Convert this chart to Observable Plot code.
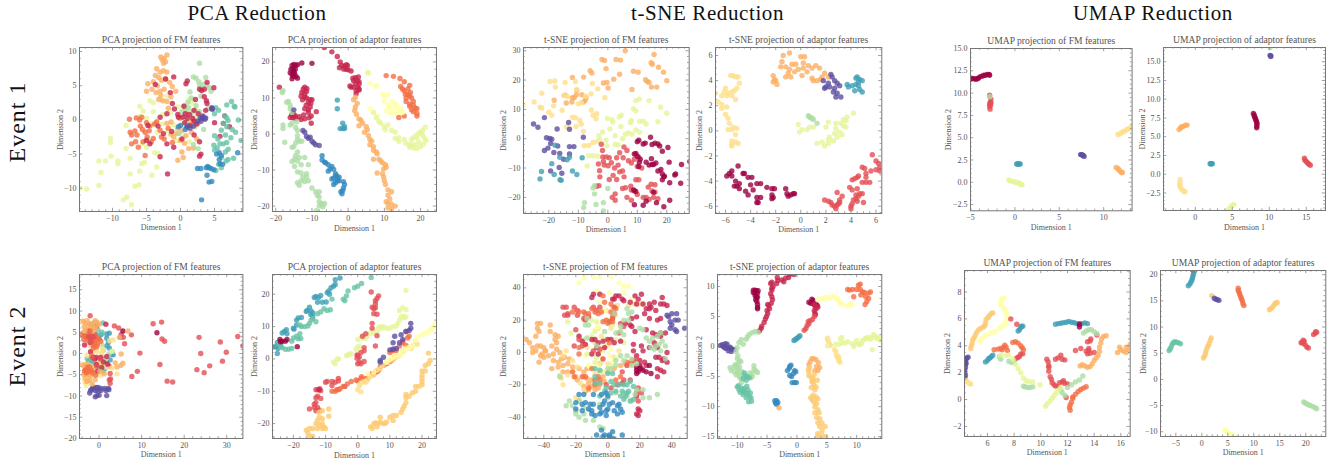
<!DOCTYPE html>
<html><head><meta charset="utf-8">
<script src="https://cdn.jsdelivr.net/npm/d3@7"></script>
<script src="https://cdn.jsdelivr.net/npm/@observablehq/plot@0.6"></script>
<style>
html,body{margin:0;padding:0;background:#fff;}
#stage{position:relative;width:1343px;height:464px;overflow:hidden;font-family:"Liberation Serif",serif;}
.sup{position:absolute;font-size:21px;color:#111;transform:translateX(-50%);white-space:nowrap;letter-spacing:.6px;top:1px;}
.ev{position:absolute;font-size:24px;color:#111;white-space:nowrap;letter-spacing:1px;transform:translate(-50%,-50%) rotate(-90deg);}
</style></head><body><div id="stage"></div>
<script>
const classNames=["a","b","c","d","e","f","g","h","i","j","k","n","l","m"];
const classColors=["#9e0142","#c7254e","#e34f54","#f46d43","#fdae61","#fdc96f","#fee08b","#ffffa8","#e6f598","#abdda4","#66c2a5","#3f9fb5","#3288bd","#5e4fa2"];

const pcaFmE1=[
["i",[-14.8,-10,-13.8,-10.1,-12,-6,-11,-6,-10.2,-5.3,-9.2,-6,-9.2,-6.4,-11.7,-7.7,-12,-9.6,-10.3,-2.7,-10.3,-3.3,-7.9,-11.3,-8.4,-11.7,-7.2,-12.4,-6.7,-9.7,-6.1,-9.5,-7.4,-7.9,-6,-7.5,-5.7,-6.4,-5.3,-6.2,-7.4,-5.6,-8,-4.2,-5.6,-3.5,-5,-4,-3.5,-6.9,-4.2,-8.1,-3.3,-4.9,-3.8,-4.8,-6,2,-5.5,1.3,-4.5,2.8,-4,2.5,-3,3.1,-2,3.5,-8,-.8,-6,.5,-5,.2,-4,1.2,-3.5,-.2,-2.6,.8,-1.5,1,-1,-.7,.3,-.7,1.2,3,1.7,2.5,2.2,1.6,1,1.2,2.4,.4,-.5,-3,-3.4,-1.8,-5,-2.8,-2.7,-.6,-1.9,-1.5,-.8,-1.9,.5,-2.5,1.3,-3.2,.6,1.5,-.3,1.9,-4.3,-.6]],
["e",[-2.4,9,-2,9.5,-2.7,8.8,-2.2,8.5,-2.9,9.2,-2.5,8.3,-3.5,7.5,-3,7,-2.5,7.2,-2,7,-3.7,6.5,-3.2,6.2,-2.2,6,-2.8,5.8,-4,5.6,-4.8,5.3,-3.4,5,-4.2,4.5,-5,4.2,-3.6,4,-3,4.2,-2.4,4.5,-1.6,5.5,-1.2,4.9,-.7,4.2,-3.2,3,-2.6,2.8,-2,2.7,-2.9,3.6,-1.4,3.4,-1.8,1.7,-2,-.5,-1,-2.5,-.5,-2,0,-3,.4,-5.5,-.4,-5.9,.2,-4.7,1.2,-4.2,.8,-2.3,1.6,-1.8,-1.4,-.3,-.4,-1.2,2.4,-2.8,1.3,-.6,.2,-1.6,-1.4,-2.1,.6,-3.4,1.9,-4.1,-.1,.2,1.7,-.2]],
["d",[-7.5,.1,-6.5,.3,-6,0,-5.7,.4,-5,-.4,-7.4,-1.8,-6.7,-1.6,-6.4,-2.2,-7.2,-2.2,-5.9,-.9,-5.6,-1.4,-4.5,-.9,-5.2,-1.8,-4.9,-2.5,-6.6,-3.2,-5.5,-3.2,-4,-2.7,-3.5,-.3,-3,-1.5,-2.8,-2.5,-2.4,-2.8,-1.8,-1.2,-5.2,-5.2,-6.2,-4,-4.3,-3.2,-4.6,-1.6,-3.8,-.6,-7.2,-3.5,-1.2,-3.3]],
["j",[2.8,8.3,1.9,6.3,2.3,6.1,2.7,5.6,3.7,6.2,3.3,5.2,3.9,5.1,4.2,4.7,4.5,4.2,2.8,5,1.4,4.1,1.6,3.2,1.1,2.6,.6,2.1,3,3.5,2.3,2.1,1.8,1.2,.8,1.4,4,1.6,.6,.5,2.6,-.5,-.2,-2,1.9,-3.6,2.6,-4.2,1.2,1.8,1.6,.6,2.8,1.2,.2,1.2,3.4,-1.4,.9,-.3,2.1,-1]],
["b",[1,5.7,.8,5.3,3.1,4.3,3.9,5.5,4.9,4.7,3.8,2.8,3.9,2.4,2.2,3,.5,2,-.3,.4,-2,.9,-3,.4,-1,6.3,-2.2,6,-3.7,5.2,-1.5,4,-2.5,-2,-3,-5.4,-1.9,-7.9,-2,-3.5,-1,-4,3,-5,2.8,-5.3,-5,-3,-4.5,-3.5,-4.8,-.8,-3.3,-.9,-1.3,-1.7,1.3,.8,1.8,.2,.6,-.4,1.4,-.8,1,.2,2.4,-.6,3.2,.4,3.7,1.4,4.6,1.6,2,1.4,-.4,.8,5,-.4,6.3,-.5,6.5,.6,7.2,-1,5.8,-2.4,3.5,3.4,2.8,4.5,3.5,4.5,-1.2,2.4,.2,-2.8,2,-2.2,2.8,-3.2,.3,.4,.7,.9,2,-.2,2.6,.9,-.9,1.6]],
["k",[5,.9,6.8,2.2,7.5,2.7,7.9,2,8,1.9,5.2,1.8,5.6,1.4,6.5,.6,6.8,.3,7,-.1,6.3,-.5,8.5,0,6.8,-1,6,-1.5,7.6,-1.4,8.1,-1.8,5,-2.3,5.5,-2.8,7.4,-2.6,6.6,-2.2,8.9,-3,6.8,-3.3,5.8,-3.5,4.9,-3.7,6.3,-3.5,5.4,-4.1,7,-4.3,6.6,-4.7,5,-4.4,7.8,-5.6,6,-5.5,7,-5.8,5.6,-6.5,6,-7,5.2,-7.4,6.7,-6]],
["l",[5.7,-4.8,5.3,-5,6,-5.2,8.4,-4.8,5.7,-5.8,5.8,-6.4,6.2,-6.5,4,-6.8,4.2,-7,4.5,-7.1,3.8,-7,4.9,-7.3,2.5,-7.1,3,-7.1,3.9,-8.1,4.2,-9.1,4.6,-9,3.1,-11.7,0,-.8,-.3,-1,.9,-1.1,.7,-1.4]],
["m",[4.6,1.8,4.7,1.6,2.5,-.2,3,-.2,3.2,.2,3.7,.3,3.3,.6,3.6,.1,2.9,.3,1,-.9,1.4,-1.2,1.9,-.9]]];

const pcaAdE1=[
["a",[-15.5,19,-15,19.3,-14.5,19,-14,19.2,-12.8,19.7,-15.8,18,-15.2,18,-14.6,18,-15,17.3,-16,17,-15.5,16.5,-14.8,16.8,-15.2,16,-14.4,16,-14,15.5,-15.5,15.3,-10,19.6]],
["b",[-6.6,24,-4.5,22.8,-3,21.5,-2.2,20,-1.8,19,-1,18.8,-.5,19.2,-2.4,18.4,-1.2,18,-.5,18,0,17.8,.8,17.5,-.2,19,1.3,15.5,2,15.6,2.8,15.8,1.5,14.8,2.5,14.8,3,14.5,2,14,3,13.8,1.5,13,2.6,13,3,12.5,.5,13.3,.8,13,2.2,12,2.2,11.2,3,12.2,-12.4,12.5,-12,13,-11.4,12.6,-12.8,11.5,-12,11.2,-11.5,11.8,-13,10.5,-12,10.2,-11.5,10,-10.5,9.5,-10,9.5,-12.6,9.5,-11,8.8,-10.3,8.5,-11.6,8,-10.5,7.5,-12,7,-11,6.7,-11,6,-8.8,6.2,-12.3,5.3,-10.2,5,-10.8,4.5,-10.2,3,-15.6,5.3,-15,5.4,-14.6,5,-16,4.6,-15.3,4.5,-14.5,4.3,-13,4,-12,4.2,-13.5,4.8,-19,13]],
["d",[10.5,16.2,12.5,16,14.3,15.4,15.5,14.5,17,13.5,14.5,13.2,15,12.5,15.5,12,15.8,11,16.5,11,17,10.5,16,10,17.5,10,18,9,16,9,17,8.3,18,8,17,7.7,18.5,7.2,19,7,17.5,6.7,18,6.2,19,5.7,19,5,15.5,5,14,4.6,16.5,12.5,17.2,11.5]],
["h",[6,14,8,13.5,7.5,13.2,5.5,17,9.5,11,10,10.5,11,11,10,9,12,9,13,8.5,11,8,11.5,7.2,12.5,7.5,13.5,7.8,14.5,7,13,6.5,14,6,12.5,5.6,11.5,6,10.5,6.5,15,6,6,7,8,5]],
["i",[5.5,17,7,6,7.8,4.5,8.5,3.5,9,3,10,2,11,2.5,12,1,10.2,1.2,13,.5,13,-1.2,14,-1,14,-2,15.5,-1.5,16,-2.6,17,-3,17.5,-3,18,-3.8,18.5,-3,19.5,-2.2,17.5,-1.5,18,-1,18.8,-.4,19.5,.2,20,.4,20.5,-.2,21,-1,21.5,-1.8,20.8,-2.8,20,-3.5,19,-4,17,-3.7,20.5,1,21.3,1.9,19,-1]],
["e",[2,10.2,1.5,9.5,2.5,8.5,2,7.5,1.8,6.5,2.3,5.5,3,4.2,3.5,3.8,4,3,5,2,3,2.3,4.5,.5,5.3,1.2,5.6,-.5,6,-1.5,6.5,-2,6,-3,7,-3.5,7,-4.5,7.8,-5,8,-5.5,7,-7,8.5,-7,9,-7.5,9.5,-8,10.3,-8.5,10.5,-9.2,9.8,-9.7,8,-10.8,9.5,-11,9.8,-12,10,-13,10.3,-14,11,-15.5,12,-16,11,-17,11.5,-18,10.5,-18.8,11,-19.3,12,-19.5,13,-20,11,-20.5,12,-20.8]],
["j",[-18.2,11.5,-18,12,-16.5,9,-17,8.8,-16,8,-16,7,-15.5,6,-16,2.5,-18,2.5,-18,1.5,-17.5,-2.3,-15.5,3,-14.2,3.4,-14.5,1.8,-14,1,-14,-.5,-14,-1.5,-14.5,-2.5,-15,-3.5,-13.5,-2,-12.8,-2,-15.5,-3.7,-14,-5,-14.5,-6,-13.5,-6.5,-12,-6.5,-14.8,-7,-14,-7.5,-15.5,-7.6,-14.8,-9,-13,-8.5,-11,-8.5,-14,-10.5,-13,-10.8,-11.5,-11,-12.5,-12,-11.5,-12,-13,-13,-12,-13.2,-11,-13,-14,-13.5,-13.5,-14.2,-10,-15,-9,-16,-8,-16,-8.5,-17,-8,-17.5,-8,-18.8,-7.5,-19.3,-7,-19.6,-6.5,-19.3,-8,-20,-7,-20.2,-8.8,-21.3]],
["n",[-3,9.4,-3,7,-1.5,3,-1,2,-1.5,1.5,-2.2,1.5,-1,1.5]],
["l",[-7.2,-6,-7.2,-7.2,-6.5,-7.8,-6.2,-8,-5.5,-8.5,-4.5,-9,-5,-9.7,-4,-9.8,-5.5,-10.3,-3.5,-11,-3.3,-11.5,-3,-12,-4,-12.2,-2.5,-12,-3,-13,-4.5,-12.5,-2.5,-13,-3.5,-13.5,-4,-14,-1.3,-13.2,-1,-14,-1.3,-15,-1.5,-15.7,-2,-16,-1.7,-16.6]],
["m",[-15,6.7,-12.5,1,-12,.5,-11.5,-.7,-10.5,-.9,-11,-1.2,-10,-2,-9.5,-2.5,-9,-3,-8,-3.2]]];

const tsneFmE1=[
["e",[5.9,30,15.7,28.7,-2,27,-1.1,26.7,2.8,27,4.3,26.8,14.7,25.9,15.1,25.4,17.2,24.4,-.6,23.9,-6,23.2,-5.4,22.4,8.7,23,10.3,22.7,18.9,22.7,4,22,2,20.3,-8.2,21,-12,20.9,12.8,20.1,13.4,19.5,14,19.2,20,19.8,-.3,19.2,-1.5,19,.1,17.3,14.8,17.6,16.6,17.6,8.2,16.8,-10.5,16.5,-10.7,15,-11.4,14,-12.2,12.5,-14.1,12.2,-18.2,13.1,-14.5,14.8,-8.8,15,-7.4,14,-7.7,13,-8.3,12.5,-12,14]],
["g",[-28.8,11.5,-25,12.5,-23,10.7,-22.4,10.5,-22.4,15.5,-20,9,-19,8,-18.4,11.2,-19.6,19.5,-18,19.7,-17.8,17.6,-14.5,19.2,-11,19.5,-10.6,16.8,-7.5,14.5,-5.7,15.3,-3.4,17,-5.2,18.8,-15,14.7,-13.7,14.4,-15.5,9.7,-12,7.3,-11,7.2,-9.5,6.3,-9,5,-5.6,9.8,-5,8,-3.8,8.5,-4,6.8,-1,14,-14,4,-10.8,4.2,-8.3,2.5,-8,-2.4,-6.5,-2.3,-5,-1.3,-3.5,-.9,-10,11.9,-9,12.3]],
["i",[-.1,6.9,1.5,6.5,1.7,5.7,3.9,7.4,4.6,8,9.5,13,10.7,13.5,14,13,8.7,10.2,9.5,9.5,17.9,10.7,20,8.7,8,6.2,7.7,5.5,10.8,5.9,12,6,13,5,17,5.8,.7,3.3,-1.8,2.3,-3,1,-2.8,-.4,-.6,-.5,2.5,-2,3.5,-2.1,2.5,1,5,0,4.4,4.2,-.3,-2.4,6,1.5,7,2,8.2,1.5,9.5,3,10.8,2.2,-6.5,-5.8,-5,-5.8,-3.5,-6,-7,-9.3]],
["c",[-2.2,-1.9,-1.8,-4,-1.7,-6.2,-.5,-6.2,.5,-6.5,-1.5,-7.8,-3.2,-8.6,-1.2,-9,.1,-9.2,1.2,-8.2,3.5,-9,2.3,-10,4,-11.3,-2.8,-10.9,-2.7,-13,1.8,-12.5,.5,-13.9,3,-13.9,5.5,-13,5,-11,5.2,-6.5,5.5,-2.8,6.5,-4,7,-7.5,8,-8.3,9,-7,10.5,-6.3,10,-9.5,11.5,-10,9.5,-14,10.5,-14,6,-16.7,7.8,-16.2,8,-17.5,9,-17.8,10,-19,12,-20,13,-20,15.5,-20,13.7,-16.5,14.7,-15.5,16,-15.7,15,-17.8,16,-18.2,2.5,-18.8,1.5,-20,2.5,-21,8,-21,-3,-16,-3.8,-16.2,5,-17,6.5,-20,14,-20.7,17,-20.5,3,-6.5,4,-4.8]],
["a",[10,-1,10.5,-.5,12,-1.8,12.7,-1.5,14.5,.5,15,-2,14.8,-6.8,15.5,-8.8,15,-8.8,16.3,-8.3,16,-1.5,17,-1.8,17.6,-2.5,20.4,-3,18.5,-4.3,9.5,-5,9,-5.2,11,-7,10.7,-8,10.5,-9.5,10,-6,13,-8,14,-9,18,-10.5,18.5,-12,19.2,-12.8,17,-11,22.7,-12.4,23,-12,21,-15,18.5,-14,19,-13,24.7,-15.2,25,-8.8,27.8,-7.8,20.8,-8,8.8,-17.5,9.5,-18,9,-22.5,12,-22.7,13,-21.3,19,-23.2,21,-21,16.5,-21.8,15.5,-18.3]],
["j",[0,-17,-5,-16.8,-4.5,-16,-7.9,-21.8,-8.2,-23.5,-4,-22.4,-1.5,-24.6,-1.5,-21.8,-4.5,-18.8]],
["m",[-25.2,5,-23.7,3.9,-21.5,7.2,-20.8,.3,-19.7,.1,-19,-.2,-20.3,-3.2,-19.4,-1.6,-21.5,-4,-17.2,3.3,-13.3,5.5,-13,3.2,-8.3,.5,-13,-2.7,-11.5,-2.7,-17,-2.5,-18.3,-4.7,-16.3,-5,-13,-5.2,-15,-7,-19.4,-11,-15.6,-11.8,-16.5,-9.8]],
["n",[-17.9,-2.2,-19,-8.5,-16.3,-6.3,-13.8,-7.2,-13,-6.3,-8.7,-6.5,-23,-13.7,-22.5,-11.2,-18.2,-12.2,-16.2,-14,-15.8,-14.2,-12,-11,-10.5,-12.2]]];

const tsneAdE1=[
["e",[-.9,6.2,-1.4,6,-1.5,5.5,-1.6,5.1,-1.2,5.1,-.7,5.3,-.4,5.3,0,5.9,.3,5.9,-.9,4.9,-1,4.6,-.5,4.7,-.2,4.9,.2,5.4,.2,5,.6,5.2,.5,4.7,.9,5,1.2,5.2,1.5,5,1.9,4.6,2.2,4.3,1.3,4,1.7,4.3,.9,4.2,1,4,-2.2,4.4,-2.1,4.1,-2,4,-2.2,3.9,-1.9,3.7,-1.2,4.3,-.8,4.3,.1,4.4,1.6,4.1]],
["m",[2.4,4.5,1.8,4,2.2,3.8,2.5,4.3,2.7,4,2.9,3.8,2.3,3.5,2.7,3.4,3.1,3.6,2,3.5,1.9,3.4,2.6,3.1,2.9,3,2.8,2.7,3.2,2.7]],
["n",[4.4,4.2,4.5,4.3,4.7,4.1,4.9,4,3.7,3.7,3.8,3.5,4.1,3.6,4.4,3.7,4.6,3.6,4.7,3.3,4.3,3.2,4.9,3.1,4.6,3.9]],
["g",[-5.6,4.4,-5.4,4.4,-5.2,4.3,-5,4.3,-4.9,3.8,-5.1,3.4,-6,3.4,-6.1,3.1,-5.8,3,-5.5,3.1,-5.3,3.2,-6.3,2.8,-5.9,2.8,-5.5,2.8,-5.2,2.5,-6.8,3,-6.6,2.3,-6.3,2.1,-6.3,1.8,-5.9,1.9,-6,1.3,-5.8,1,-5.7,.6,-5.4,.3,-5.8,.1,-5.5,.1,-5.1,.2,-5.2,-.3,-5.5,-.8,-5.2,-.9,-5.5,-1.1,-5,-1,-5.5,-1.2]],
["i",[-.2,.5,.1,.1,.5,.1,.7,.3,1,.3,-.1,-.1,2,.3,2.2,.7,2.8,.6,2.8,.2,3.2,.6,3.4,.4,3.6,.8,3.6,.3,3.4,.9,3.7,1.1,4.2,1.4,3.1,-.1,2.7,-.2,2.9,-.5,2.3,-.5,2.6,-.8,3.3,-.3,1.3,-1,1.7,-.9,1.9,-1.2,2.2,-1,2.2,-.7]],
["j",[.6,1.2,.7,1.1,.8,1.05,.9,1,1,.9,1.3,.6]],
["a",[-5.9,-3.6,-5.7,-3.4,-5.5,-3.2,-5.5,-3.6,-5,-2.8,-5.2,-4,-5.3,-4.4,-5.1,-4.4,-4.9,-4.6,-4.9,-4.2,-4.5,-3.4,-4.6,-3.4,-4.2,-3.7,-3.9,-3.7,-4.4,-4.8,-4,-4.3,-4.2,-5.1,-3.8,-4.7,-3.5,-4.2,-3.2,-4.2,-3.5,-5.3,-3.2,-5.3,-3.4,-5.7,-3.5,-5.7,-2.7,-4.5,-2.3,-4.6,-2.1,-4.6,-2.3,-5.1,-2.2,-5.3,-1.2,-4.6,-1.1,-5,-1,-5.2,-.8,-5.1,-.6,-5,-.5,-5,-2.3,-5.4]],
["c",[1.9,-5.5,2.2,-5.6,2.4,-5.7,2.5,-5.9,2.7,-6,2.8,-6.2,2.9,-5.9,3,-5.8,3.1,-5.5,3.3,-5.2,2.9,-4.9,3.1,-5.7,4,-6.2,4,-6,4.1,-5.8,4.2,-5.5,4.4,-5.4,4.5,-5.6,4.4,-5.1,4.6,-5.2,4.7,-5,4.9,-5,5,-5.7,3.9,-4.5,4.1,-4.7,4.5,-4.6,4.1,-3.9,4.3,-3.8,4.5,-3.7,4.6,-3.6,4.9,-4.1,5.2,-4.1,5.6,-3.2,5.2,-3.4,5.2,-3.7,5.5,-4.1,4.9,-2.9,5.1,-3,5.7,-1.9,6,-2.4,6.2,-2.6,6.3,-2.9,6.3,-3.2,6,-3.1]]];

const umapFmE1=[
["a",[-5,11.55,-4.8,11.65,-4.6,11.6,-4.4,11.55,-4.2,11.6,-4.1,11.7,-3.9,11.85,-3.7,11.9,-3.5,12,-3.3,12,-3.1,12.1,-2.9,12.1,-2.85,12]],
["c",[-2.85,9.75,-2.7,9.3,-2.75,9,-2.85,8.8,-2.85,8.5,-2.8,8.2,-2.75,8.6,-2.7,8.9]],
["j",[-2.85,9.6]],
["g",[11.6,5.35,11.8,5.4,12,5.55,12.2,5.7,12.4,5.75,12.6,5.9,12.8,6,13,6.1,13.2,6.15]],
["m",[7.4,3.1,7.5,3.1,7.6,3.05,7.7,3,7.8,2.9]],
["n",[.2,2.05,.3,2.05,.4,2.05,.5,2.05,.6,2.05]],
["e",[11.4,1.65,11.6,1.55,11.7,1.4,11.85,1.25,12,1.1,12.1,1.1]],
["i",[-.7,.25,-.5,.15,-.3,.1,-.1,.05,.1,0,.3,-.05,.5,-.1,.7,-.25,.8,-.3]]];

const umapAdE1=[
["j",[10.1,16.9]],
["m",[10.1,15.85,10.2,15.8,10.2,15.7]],
["a",[7.85,8.1,7.95,7.9,8,7.7,8.1,7.5,8.15,7.3,8.25,7.1,8.3,6.9,8.35,6.7,8.3,6.4,8.3,6.2]],
["e",[-2.2,5.95,-2,6.15,-1.9,6.3,-1.7,6.35,-1.5,6.45,-1.3,6.55,-1.1,6.55]],
["c",[14.75,2.15,14.8,1.9,14.95,1.75,15.1,1.6,15.25,1.45,15.4,1.3,15.55,1.2]],
["n",[2,1.4,2.1,1.4,2.2,1.4,2.3,1.4]],
["g",[-2.05,-.7,-2.1,-1.1,-2.1,-1.45,-2.05,-1.7,-1.9,-1.95,-1.7,-2.15,-1.5,-2.3,-1.4,-2.35]],
["i",[5.2,-4.05,5,-4.15,4.8,-4.4,4.6,-4.6,4.4,-4.8]]];

const pcaFmE2=[
["c",[-2.1,8.9,3.6,6.5,4.6,6,5.2,4.5,5,3.8,5.7,3.8,6,2.3,7.6,4.4,9.6,.1,12.7,7,14.7,7.4,14.8,3.4,15.4,2.9,14.3,-2.6,16,-6.5,17.3,-6.7,7.7,-5.4,9,-4.2,23.5,3.8,23.9,0,23,-3.8,24.7,-4.5,26,-2.9,28.5,2.7,29.9,.3,29,-1.8,32.6,4,33.8,1.8,2.6,-4.7,2.7,-6,2.6,-7,2.4,-6.2,2.4,-3]],
["a",[5.6,5.3,13.6,4.9]],
["m",[-1.3,-8,-.7,-8,-.2,-8,.4,-8.2,1.3,-8.2,2.2,-8.2,2.3,-8.5,-2,-8.7,-1.6,-8.3,-.9,-8.7,-.3,-8.8,.4,-8.7,1.6,-8.7,-2.2,-9.3,-.9,-10.2,-.5,-9.9,0,-9.8,1.8,-9.9,-1.6,-8.3]],
["n",[1.8,4.6,2.4,4.8,1.8,3.6,2.2,2.6,1.8,1.8,2.4,1.3,3,-.2,3.3,-.3,2.6,-1.5,1.7,-1.8,-.7,4.5,.5,4.5,0,3.4,-1.5,-1.9,-2.4,-1.8,.8,-3,1.4,-1.2]],
["k",[-1,7.4,-.5,7,-2,6.7,-1.2,6.3,-.3,5.6,.7,5,.9,7.2,-3.2,4,-2,-1.4,-1,-2.4,-.1,-3,1,-4.2,1.4,-3.6,.4,-1.5,-2.8,-1.2]],
["j",[-3,5.5,-.5,3.5,.7,2,-.8,1,1,.7,2.4,0,3.1,.5,-2.6,-2.5,-1.4,-3.8,.4,-3.7]],
["i",[-2,-7,-3,-7.5,-2,-5.5,-.5,-4.8,1.6,-1.2,3,.5,-.8,-1.5,.8,-2.8]],
["g",[-3.6,7.6,-2,1.7,-1,1.2,2.5,3,3.3,3.2,-.6,.4,.5,-.4,-3.5,-4.5,-3.3,-6.7,-2.5,-6,.3,-5.2,-.2,-2.2,.5,-2.4,1.8,-3.2,4.2,-4.8,3,-3.4,-.2,1.8,.8,1,-1.4,.6,-2.8,-.4,-2,-3,.6,.2]],
["b",[-1.4,-.8,-1,-1.3,-.6,-.9,-2,.4,.4,-.9,-.6,-2.6,1,-2,2,-2.5,1.8,-.7,1.6,6.9,-.6,6.5,-3.4,2,-2.1,2.6,-2.4,5.3,-.4,-4.2,.6,-3.3]],
["e",[-3.8,7.6,-3.2,7.1,-2.8,7.7,-2.2,7.1,-1.5,7,-.9,7.7,-.7,6.5,-.5,7.4,0,6.9,-3.5,6.3,-2.5,6.5,-1.6,6.1,-.8,5.7,-3.2,5.5,-3.7,5,-1.5,5.4,-3,-2.5,-3.5,-3,-3.9,-2.7,-3.1,-3.4,-3.3,-3.9,-2.2,-4.4,-2.6,-5,-2,-5.2,-2.2,-6.3,-3.3,-5.8,-3.5,-5,-1.7,-4.2,-1.4,-3.4,-2.9,-6.6,-1.6,-7.2,-.9,-6.2,.2,-4.2,1.2,-4.8,3.8,-2.2,4.2,-3.2,5.1,-2.8,5.6,-2.3,6.8,5.3,4.8,3.8,5.2,-.1]],
["d",[-4.1,4.3,-3.5,4.2,-3,3.9,-2.6,4.4,-2,4.3,-1.4,4,-.9,4.4,-.5,3.8,0,3.4,-3.6,3.3,-2.9,3.2,-2.3,3,-1.5,3.2,-.9,3.1,-1,2.4,-.4,2.2,.4,2.9,-1.4,1.9,-1.3,1.3,-.6,1.6,-2.1,5.3,-1.7,-.6,-3.4,-4.1,-3,-4.6,-2.5,-4.2,-1.8,-4,-3.2,-3.9,-2.7,-3.3,-1.5,-4.6,-.8,-5.1,-2.2,-3.1]],
["c",[-2.5,4,-2,3.6,-1.8,4.1,-1.2,3.9,-1.4,-1,-.5,-3,.3,-1.3,-1.9,2.7]]];

const pcaAdE2=[
["n",[-26.3,3.7,-25.5,3.8,-25,5,-24.6,5.2,-24.8,3.2,-25,1.7,-24,4.5,-23.5,8,-22.8,8.5,-22.2,9,-22,7.8,-20,9.5,-19.8,9.2,-19,10.5,-19,12,-18.5,12.7,-17.5,12.8,-16,14.7,-15.7,15,-15,16,-14.5,14.8,-14,14.2,-14.6,13.7,-14,13,-13.5,19,-13,19.3,-12.2,19,-11.5,19.6,-12.5,17.5,-11,17.5,-9.8,17.6,-9.5,20.5,-9,21,-8.8,20,-8.3,22,-7.5,22.5,-7,23,-7,24.5,-5.5,25]],
["k",[-24.8,5,-24,3.8,-23.5,3.5,-22.5,3,-21.5,3,-20.5,3.2,-20.5,5.5,-20,6.5,-19,7,-18.5,6.2,-18,7.8,-17.7,6.3,-18,10.5,-17.5,10,-16.5,10,-15.5,10.2,-15,11,-14.5,12,-14,12.5,-13,11.5,-12.5,14,-11.5,14.5,-10.5,15.5,-9.5,15,-8.5,15.2,-8,18.5,-4.5,18.5,-4,18,-3.5,19.5,-3,21,-1,22,0,22.5,1.2,23.3,4.2,25.2]],
["a",[-24.2,6,-24,5.3,-23.5,5.5,-22.5,5.5,-22,6,-18.8,3.8]],
["i",[-7.5,-.9,-7,-1.5,-6.3,0,-6,0,-3.5,1,-3,1.2,-2.5,1.5,-2,1.5,-.5,3,0,3.7,.5,3.8,0,6,1,6.5,1.5,7,2,6.3,2.5,6.5,3,7,4,8,5,8,6,8.5,6.5,9.5,7,10,7.5,9.5,8,10,9,9.5,10,9.5,11,10,12,10.2,12.5,11,13,12,13.5,13,14,13.2,14.5,12.7,15,13,13,15,14,15.8,15,15.2,15,21.2]],
["c",[4.2,20.7,5.5,18,6,18.7,6.5,19.5,5.5,17,4.5,16,5,15.5,5.5,15.8,5,14,6,13.8,4.5,11,4.5,9.5,2.5,7.8,5.5,4,6,7.2,1.5,7,2,3.5,2,2.5,1,2,0,1,-.2,1.2,.5,.5,.5,-1,0,-1.5,1,-1.5,2,-.8,-.2,.2,-15,-15.5,-13.5,-15,-13.5,-14,-13,-13.5,-12.5,-15,-12,-15.8,-13,-16,-11.5,-12.2,-12.5,-11.5,-13,-12,-12.5,-9.5,-13,-9.5,-11.8,-9.2,-11.5,-9.8,-10,-7.2,-9.5,-7,-8,-7,-6,-6.8,-6,-6,-7,-7.2,-8,-8.2,-4,-8.5]],
["b",[-12,-9.5]],
["d",[-8,-10,-7,-10,-6.5,-9.5,-6,-9.5,-5.5,-9.2,-4.5,-8.5,-3.2,-7.7,-2,-7,-.5,-6.5,0,-6.8,1,-6,1.2,-5.5,2,-6.8,2.5,-6,3,-6,3.5,-5,4.5,-4.5,5,-4.8,5.5,-4,6,-4,6.5,-3.5,7,-2.5,8,-2,9,-1.5,10,-.8,10.5,-.5,11,0,11.5,.5,12,.8,10,2,11,2.5,11,3,12,2.6,13,4,14,5,15,4.2,14,5.5,15.5,6.5,16,7,15,8.5]],
["g",[1,-10.2,0,-9.5,.5,-8.3,1,-7.5,2,-7,2.5,-7.2,3,-6.5,4,-5.5,5,-5,6,-3.5,7,-3,7.8,-2,9,-1,10,-.5,11,-.2,11.8,.5,12.5,.8,13,1,14,2.2,15,3.3,16.5,3.2,17,4,18,5.5,18.5,4.5,3.5,-5]],
["h",[9,-1,10,0,11,.5,12,1,13,1,13.5,2,15,2.8,16,3.5,17,4,18,5.8,19,7,20,7.5,21,8,22,8.3,22.5,9,23,9,23.5,10,24,10.8,5,-4,3,-4.5]],
["f",[-16,-22,-15,-21.5,-14,-21.5,-15.5,-23,-15,-24,-14,-24,-13,-20,-12.5,-19,-12,-18,-11,-18.5,-11,-20,-10.5,-21,-12,-20.5,-12.5,-21.5,-11,-21.5,-10,-21.5,-12,-16.5,-11,-16,-9,-15.5,-9,-17.7,4,-21,4.5,-21.5,5,-20,5.5,-19.7,6,-21,6.5,-20,7,-19.5,7,-18,8,-20,8.5,-20,9,-19.5,10,-18,11,-17.5,12,-17.5,11,-19,13.5,-16.5,14,-15.5,14.5,-14.5,15,-13.5,15,-12,16,-11.5,17,-10.5,18,-10,15,-11,18,-8.5,19,-8.5,20,-8,20,-7,20,-6,20,-5,20,-3.7,21,-3.7,21,-2,22,-1.5,22.5,-.5,22,1.8]],
["m",[7,-.5,8,.5,10,2.8,11,3,12,3.2,11,5,11.5,7,13,5,14,6,13.5,7.5,15,8.5,16,8.8,16.5,9.5,16.5,11,7,-1]]];

const tsneFmE2=[
["e",[-51,8,-49,6,-47,3,-47,0,-45,1,-44,4,-42,4,-40,3,-39,1,-41,-1,-42,-2,-40,-3,-43,-6,-39,1,-45,10,-43,13,-44,15,-44,18,-42,18,-36,17,-36,13,-33,11,-31,10,-33,8,-32,6,-35,4,-32,2,-34,-1,-30,0,-37,-2,-34,-5,-31,-6,-29,-4,-35,-10,-31,-9,-28,-8,-25,-7,-28,-12,-25,-12,-27,-3,-24,-4,-22,-9,-18,-10,-15,-12,-13,-10,-20,-15,-19,-17,-15,-15,-13,-16,-12,-19,-10,-17,-15,-21,-14,-24,-10,-21,-8,-23,-12,-23,-5,-20,-2,-18,-3,-15,-6,-22,-5,-7,0,-12,4,-10,8,-8,11,-7,15,-5,17,-6]],
["g",[-26,1,-28,-2,-22,-5,-19,-9,-29,-16,-30,-14,-25,-14,-28,-20,-22,-12,-20,-28,-18,-29,-15,-23,-17,-19,-8,-13,-5,-12,0,-7,4,-3,7,1,-1,4,-4,10,2,15,-8,6,-13,3,-6,15,-4,26,-1,26,3,28,6,29,13,29,17,30,19,30,21,30]],
["h",[-18,43,-15,46,-9,47,-5,47,-2,49,2,47,7,43,10,41,13,41,-7,38,1,37,10,37,15,33,-5,31,-6,25,-2,26,-15,5,-14,-2,-12,-8,-11,-9,-8,-9,-6,-8,-4,-3,1,-2,3,-5,-8,14,-6,16,2,2,6,-3]],
["i",[-23,12,-25,19,-18,10,-15,8,-10,10,-8,13,-9,8,-4,3,-1,20,1,20,-7,19,-10,20,-15,20,-1,8,-6,-1,-7,-3,-4,-6,-3,-12,-3,1,5,8,8,7,10,6,3,17,5,23,-13,-1,-8,-6,2,-8]],
["b",[-9,36,-10,34,-5,36,3,33,5,35,4,33,7,35,9,33,10,32,14,31,17,35,19,33,21,36,18,30,22,30,24,27,26,27,26,30,27,28,29,31,33,30,34,34,35,30,37,29,30,26,26,21,31,20,33,21,23,24,18,22,15,21,11,18,14,17,15,16,17,13,24,14,28,12,30,11,33,12,36,12,33,10,29,6,30,4,31,3,16,5,21,4,26,3,22,1,16,1,18,-2,20,-5,23,-6,24,-8,21,-10,30,-3,32,-3,34,-5,37,0,35,-4,37,-6,31,-10,33,-11,35,-12,31,-15,-18,10,-16,7,-14,5,-10,8,-8,8,-6,6,-3,7,0,8,2,8,4,6,8,7,-7,3,-2,3,-6,-1,-10,-1,18,-27,19,-35,20,-36,18,-38,19,-39]],
["a",[18,-9,20,-10,19,-12,22,-11,24,-12,27,-13,18,-13,20,-8,26,-8,18,-11]],
["c",[-28,28,-26,28,-25,24,-27,23,-25,23,-21,28,-19,26,-19,23,-15,21,-14,20,-12,22,-9,28,-7,26,-5,28,-20,14,-18,8,-21,4,-16,4,-9,1,-3,-4,-5,2,7,12,1,19,3,21,4,24,4,28,8,18,10,16,-1,-20,2,-22,6,-20,9,-19,10,-17,14,-17,19,-22,18,-25,21,-25,19,-30,12,-8,16,-5,18,-4,9,-12]],
["d",[-22,25,-18,25,-15,25,-14,24,-12,24,-10,27,-8,25,-6,24,-4,25,-2,31,-3,35,2,25,3,22,2,30,5,27,-3,19,0,18,-1,20,3,19,-18,3,-18,-1,1,6,-22,-12,-21,-15,-16,-15,-14,-15,-10,-10,-8,-17,-6,-15,-12,-22,-8,-20,-5,-17,5,-17,8,-15,12,-6,14,-7]],
["j",[-30,-15,-26,-33,-22,-33,-18,-30,-15,-34,-15,-38,-18,-40,-20,-38,-14,-42,-9,-42,-5,-46,-3,-47,-24,-30,-20,-36,-12,-35,-5,-32,0,-28,5,-25,10,-25,12,-27,15,-30,17,-26,18,-23,22,-23,22,-28,26,-28,31,-26,0,-10,2,-10,5,-8,5,-5,8,-2,10,-5,12,-2,15,-4,15,-8,18,-7,20,15,22,14,24,9,28,9,31,10,33,12,34,7,26,7,27,3,29,2,30,4,32,5,33,1,36,-4,36,4,5,12,8,13,10,11,8,16,10,20,13,20,13,24,15,25,12,27,4,24,-13,21,-14,17,-12,17,-13,9,-7,4,-2,13]],
["k",[-8,-15,-8,-19,-8,-10,-5,-11,-5,-19,-5,-27,-2,-24,0,-13,-1,-22,2,-18,2,-25,3,-13,4,-20,5,-24,7,-20,10,-20,12,-20,14,-18,16,-21,13,-24,8,-27,10,-29,11,-27,14,-30,16,-29,12,-25,9,-24]],
["l",[-18,-26,-15,-26,-9,-26,-9,-32,-20,-31,-16,-32,-14,-31,-11,-32,-10,-36,-10,-38,-5,-34,-3,-32,-2,-30,-4,-37,-5,-38,-1,-36,0,-35,-1,-39,1,-32,3,-31,6,-33,7,-32,8,-35,9,-37,4,-36,6,-38,-20,-35,-16,-36,-12,-35,-8,-39,-4,-26,-1,-25,0,-27,-3,-52,-2,-51,1,-51,3,-49,1,-52,4,-54,-7,-51,-4,-48,3,-53,9,-51]],
["m",[37,23,38,22,40,24,43,24,39,19,40,17,42,20,44,20,39,15,42,14,43,13,48,15]]];

const tsneAdE2=[
["a",[-7.3,9.4,-7,9.4,-6.8,9.3,-6.5,9.3,-7.3,9,-7,8.9,-6.6,8.9,-7,8.5,-6.8,8.2,-6.6,8.2,-6.9,7.8,-6.7,7.5,-6.6,7,-6.6,6.5,-6.6,6.3,2.5,7.9,2.7,7.7,2,7.4,2.3,7.2,2.8,7.1,3.2,7.1,3.4,6.8]],
["b",[-6.3,2.6,-6,3,-5.9,3.4,-5.5,4,-5.3,4.6,-5.1,5,-4.9,5.5,-5,6,-4.6,6.3,-4.7,6.8,-4.9,7,-4.3,7.2,-4.1,7.8,-4.2,8.3,-4.4,8.8,-4.2,9.4,-4.2,9.7,-4.4,10.5,-4.2,10.7,-3.4,10.5,-3.2,11,-2.5,11.1,-2.2,10.8,-1.9,11.4,-1.4,11.5,-1.2,12,-.5,12,-3.3,11.5,-4,10,2.9,7,3,6.8,3.5,6.6,3.2,6.3,2.9,6,3,5.5,3.1,5.3]],
["c",[1.2,2.7,1.5,3,1.7,3.5,2,3.8,1.9,4.2,2.2,4.3,2.6,4.5,2.9,5]],
["d",[8.5,9.5,9.3,9.5,10,9.5,10.3,10.2,10.6,10.4,10.6,9.5,11,9.1,10.7,8.6,11.3,9,11.5,8.3,12,8.9,12.3,9.1,12,8,11.7,7.5,11.4,7,9.5,8.3,8.8,9.4]],
["h",[3.5,7.8,4.2,8,4.6,8,5,8.2,5.5,8.1,6,8.4,6.4,8.1,6.8,8,7,7.6,7.2,7.2,7.6,7,8.5,6.8,9,7.1,9.2,6.9]],
["g",[5.1,1.4,5.2,1,5.4,.5,5.6,.2,6.3,-.5,6.5,-.9,6.6,-1.5,6.8,-1.8,6.9,-1.6,7,-1.9,7,-2.3,7.2,-2.6]],
["i",[5.1,.1,6.5,.4,7,.4,7.5,.6,8,.6,8.5,.8,7.3,1.3,7.5,1.5,9.2,.5,9.5,0,9.8,.5,10,1,10.2,.5,10.5,.3,10.8,.5,11,1,11.3,1.2,11.5,1.4,11.8,1.5,12,1.4,12.3,1.2,12.5,1.5,12.8,2,13,1.8,13.2,1.5,13.5,1.3,13.8,1.5,12.6,-.5,14,1]],
["n",[-.5,1,-.3,1.15,-.1,1.3,.1,1.45,.3,1.6,.5,1.8]],
["m",[-12.8,.2,-12.5,.3,-12,.5,-11.7,.4,-12.3,0,-11.9,-.3,-11.5,-.2,-11.2,-.1,-11,-.3,-10.7,-.5,-11.5,-.7,-11,-.8,-10.5,-.5,-12.2,-.1]],
["j",[-6.5,2.4,-7,2.5,-7.5,2.3,-8,2,-8.3,1.6,-8.5,1.2,-9.3,1.2,-9.7,.7,-9,.4,-10,-.2,-10.2,-.8,-9.9,-1.5,-10,-2,-9.6,-2.3,-9.4,-2.5,-10.3,-3,-10,-3.5,-10.5,-3.3,-11.2,-3.5,-11,-4,-10.5,-4.2,-9.8,-4,-9.5,-4.8,-9.3,-5.5,-9.3,-6,-7.2,-3.2,-7.2,-3.8,-6.9,-4,-6.6,-4.3,-7.5,-4.5,-7.5,-5,-7.7,-5.2,-9.9,-2.8,-9.6,-3.4,-9.9,-4.4,-9.6,-5.1,-10.2,-4.7,-9.2,-4.2,-8,-5,-7.9,-4.4]],
["k",[-8.7,-4.8,-8.3,-5,-9,-5.3,-8.5,-5.6,-8,-5.2,-10,-6.7,-9.8,-6.5,-9.3,-6.9,-8.8,-7,-8.2,-7.2,-8.9,-7.5,-8.3,-7.8,-7.8,-7.7,-9.7,-7.2,-9.5,-7.6,-8.5,-8.5,-8,-8.3,-7.7,-8.5,-8.1,-9.2,-7.6,-9.1,-9.1,-7.3,-9,-8,-8.7,-7.7,-8.4,-6.6,-8.8,-4.4]],
["l",[-1.2,-3.3,-1,-3.1,-1.3,-3.6,-1.6,-4,-.4,-4,-.2,-4.2,-.6,-4.5,-.9,-5,-1.2,-4.8,-.8,-6,-.4,-6,-.1,-6,-3.7,-9,-3.4,-9,-3.6,-9.4,-3.2,-9.3,-3.4,-9.6]],
["e",[2.5,-2,2.8,-2,3.2,-2.2,2.2,-2.5,3.6,-2.7,2,-3,3.8,-3.5,3.5,-4,3.3,-3.3,3,-4,-3,-10.2]],
["f",[2.1,-3.5,1.9,-3.8,2,-4.2,2,-4.8,2.4,-5.2,2.7,-5.3,2.5,-5.8,2.8,-6.3,2.4,-6.8,3.2,-6.7,2.3,-8.5,2.5,-8.8,3.2,-8.4,3.5,-8.7,2.8,-9.2,3.3,-9.5,3,-10,3.5,-10.5,3,-11,3.7,-11,3.3,-11.8,3.8,-12,3.5,-12.7,4.2,-12.7,3.8,-13.3,4.7,-13.3,4.2,-14,3.5,-14.5,4.2,-14.8,4.8,-15,3.4,-15.1,2.7,-5.8,2.9,-4.6,3.4,-5.6,3,-7.2,2.7,-8.1]]];

const umapFmE2=[
["m",[4.55,3.15,4.45,3.1,4.4,3,4.35,2.8,4.35,2.6,4.35,2.4,4.3,2.2,4.3,2,4.35,1.8,4.3,1.6,4.4,2.7,4.3,2.9]],
["g",[4.4,1.4,4.5,1.3,4.65,1.2,4.75,1.15]],
["f",[4.75,3.8,4.8,4,4.85,4.2,4.9,4.45,5,4.6,5.1,4.8,5.2,5,5.35,5.2,5.5,5.3,5.7,5.4,5.8,5.5,5.85,5.7,5.9,5.95,6.05,6.1,6.15,6.25,6.3,6.4,6.4,6.45]],
["h",[7.25,7.55,7.1,7.5,7,7.3,7,7.1,7.05,7,7.2,6.85,7.3,6.7,7.4,6.5,7.45,6.3,7.5,6.1,7.4,5.85,7.3,5.6,7.1,5.45,6.9,5.3,6.6,5.05,6.4,5,6.2,4.9,5.9,4.8,5.7,4.65,5.55,4.5,5.4,4.35]],
["n",[5.85,2.8,6,2.9,6.1,3.05,6.2,3.1,6.3,3.2,6.4,3.3,8.3,5.1,8.4,5.2,8.5,5.35,8.55,5.45,8.65,5.45,11.1,5.6,11.3,5.65,11.5,5.68,11.7,5.72,11.9,5.75,12.1,5.8,12.3,5.75,12.5,5.72,12.7,5.65,12.9,5.65,13.1,5.65,13.3,5.7,13.5,5.65]],
["a",[12.9,5.6,12.9,5.4]],
["c",[7.75,6,8.2,5.6,8.15,3.05,8.3,3.15,8.4,3.2,8.5,3.4,8.65,3.4,10.45,3,10.55,2.8,10.6,2.5,10.6,2.4,10.6,2.1,10.7,1.7,10.8,1.5,10.85,1.25,11,1.1,11.1,1,11.3,.95,11.4,1.25,11.6,1.3,11.7,1.4,11.8,1.2,12,1.15,11.1,3,11.3,3.1,11.5,3.3,11.6,3,11.8,2.95,11.9,.15,12.6,3.65,13,3.8,13.5,4.3,13.7,4.35,13.4,3.6,13.6,3.65,13.5,3.4,13.7,3.45,14,3.5,14.2,4.8,13.75,4.5,13.6,3.8]],
["d",[6.5,3.7,6.8,3.75,7,3.8,7.2,3.9,7.3,4.05,7.4,3.9,7.1,3.7,7.5,3.65,7.9,4.25,8.1,4.3,8.3,4.2,8.5,4,8.6,3.85,8.7,3.7,12.2,-.8,12.15,-.6,12.2,-.4,12.3,-.2,12.4,.1,12.4,.2,12.6,.4,12.8,.6,13,.75,13.2,.85,13.4,.95]],
["j",[6.9,3.2,7,3,7.6,2.85,7.8,2.75,8,2.8,8.7,1,8.8,.95,9,.9,9.2,.9,9.4,.95,11.5,.7,11.6,.5,11.8,.3,12,.9,12.3,1.1,12.6,1.3,12.9,1.45,13.15,1.75,13.2,4.95,13.4,5.1,13.6,5.2,13.8,5.2,14,5.05,14.2,4.9]],
["i",[7,3.3,7.4,3.3,7.6,3.3,7.9,3,8.1,2.6,8.3,2.3,8.5,2,8.7,1.6,8.9,1.4,9.1,1.35,9.4,1.3,9.95,1.1,10.35,-.5,10.5,-.3,10.7,-.1,10.85,.1,11,.3,11.15,.5,11.3,.7,11.5,.9]],
["e",[12.95,2.5,13.1,2.6,13.3,2.5,13.5,2.4,13.7,2.45,13.85,2.65,14,2.9,14.15,3.1,14.3,3.3,14.4,3.6,14.4,3.9,14.5,4.2,14.55,4.5,14.7,4.7,14.9,4.75,15.75,3.5,15.9,3.9,16,3.7,16.2,3.6,16.4,3.5,16.6,3.7,16.4,3.9,16.7,4.1]]];

const umapAdE2=[
["n",[-2.6,17.9,-2.3,18.2,-2.1,18.6,-1.9,19,-1.8,19.4,-1.7,19.8,-1.6,20.2,-1.4,20.7]],
["c",[-1.8,20.9]],
["f",[1.9,16,.3,4.1,.5,4.4,.7,4.9,.8,5.4,1,6,1.2,6.4,1.4,6.8,1.6,7.4,1.8,7.9,13,13.3,13.3,13.5,13.6,13.8,13.9,14.2,14.2,14.6,14.5,14.7]],
["m",[2.4,15.5,2.7,15.3,3,15.2,3.3,15.1]],
["d",[7,17.4,7,17,7.2,16.6,7.3,16.2,7.5,15.8,7.6,15.4,7.8,15,7.9,14.5,8.1,14.1]],
["c",[19.3,7.1,19.5,6.9,19.7,7.3,19.5,7.5,19.1,7,19.9,6.6,20.2,6.2,20.5,6,21.5,8.6,21.8,8.8,22.1,9,21.9,9.1]],
["k",[-6.3,5.5,-6.1,5.8,-5.9,6.2,-5.7,6.7,-5.5,7,-5.2,7.2,-4.9,7.1,-4.5,7,-4.1,6.8]],
["j",[19.6,-4.3,19.9,-4.5,20.2,-4.7,20.6,-4.9,21,-5,21.4,-5.2,21.8,-5.4,22.1,-5.6]],
["h",[4.4,-9.6,4.7,-9.9,5.1,-10.2,5.5,-10.5,5.9,-10.8,6.4,-10.9]]];

/* layout, kept apart from the data above */
const panels=[
 {d:pcaFmE1,t:"PCA projection of FM features",L:79.3,R:242.7,T:47,B:211,xd:[-14.85,9.17],yd:[-13.4,10.6],xt:[-10,-5,0,5],yt:[-10,-5,0,5,10],yo:22},
 {d:pcaAdE1,t:"PCA projection of adaptor features",L:272.3,R:436.3,T:47,B:211,xd:[-20.9,24.4],yd:[-21.5,24],xt:[-20,-10,0,10,20],yt:[-20,-10,0,10,20],yo:21},
 {d:tsneFmE1,t:"t-SNE projection of FM features",L:523.3,R:689,T:47,B:213,xd:[-28.6,27.6],yd:[-25.5,31.1],xt:[-20,-10,0,10,20],yt:[-20,-10,0,10,20,30],yo:23},
 {d:tsneAdE1,t:"t-SNE projection of adaptor features",L:715,R:881.3,T:47,B:213,xd:[-6.8,6.46],yd:[-6.58,6.64],xt:[-6,-4,-2,0,2,4,6],yt:[-6,-4,-2,0,2,4,6],yo:19},
 {d:umapFmE1,t:"UMAP projection of FM features",L:969.7,R:1131.3,T:47.7,B:210,xd:[-5,13.2],yd:[-3.2,15],xt:[-5,0,5,10],yt:[-2.5,0,2.5,5,7.5,10,12.5,15],yo:25,yf:".1f"},
 {d:umapAdE1,t:"UMAP projection of adaptor features",L:1163.3,R:1325.3,T:47,B:210,xd:[-4.3,17.6],yd:[-4.84,16.9],xt:[0,5,10,15],yt:[-2.5,0,2.5,5,7.5,10,12.5,15],yo:24,yf:".1f"},
 {d:pcaFmE2,t:"PCA projection of FM features",L:79.3,R:242.7,T:274.3,B:438.3,xd:[-4.6,33.8],yd:[-20,18.6],xt:[0,10,20,30],yt:[-20,-15,-10,-5,0,5,10,15],yo:22},
 {d:pcaAdE2,t:"PCA projection of adaptor features",L:272.3,R:436.3,T:274.3,B:438.3,xd:[-26.5,24.5],yd:[-24.6,26.1],xt:[-20,-10,0,10,20],yt:[-20,-10,0,10,20],yo:21},
 {d:tsneFmE2,t:"t-SNE projection of FM features",L:523.3,R:687,T:274.3,B:438.3,xd:[-52.7,49.6],yd:[-53.2,48.2],xt:[-40,-20,0,20,40],yt:[-40,-20,0,20,40],yo:23},
 {d:tsneAdE2,t:"t-SNE projection of adaptor features",L:717,R:881.3,T:274.3,B:438.3,xd:[-13.3,14.2],yd:[-15.3,12],xt:[-10,-5,0,5,10],yt:[-15,-10,-5,0,5,10],yo:21},
 {d:umapFmE2,t:"UMAP projection of FM features",L:964.3,R:1130,T:270.3,B:436.3,xd:[4.28,16.7],yd:[-2.75,9.6],xt:[6,8,10,12,14,16],yt:[-2,0,2,4,6,8],yo:20},
 {d:umapAdE2,t:"UMAP projection of adaptor features",L:1160,R:1325.3,T:270.3,B:436.3,xd:[-7.95,23.85],yd:[-10.9,20.8],xt:[-5,0,5,10,15,20],yt:[-10,-5,0,5,10,15,20],yo:20}
];
const supers=[["PCA Reduction",257],["t-SNE Reduction",707.5],["UMAP Reduction",1153]];
const events=[["Event 1",122],["Event 2",346]];

const INK="#777",TXT="#555";
const stage=document.getElementById("stage");
function minorTicks(major,dom){
  const step=major[1]-major[0],n=[1,2.5,5,10].includes(step)?5:4,m=step/n;
  const lo=Math.min(...dom),hi=Math.max(...dom),out=[];
  for(let i=Math.ceil(lo/m);i*m<=hi;i++){const v=i*m;if(!major.some(t=>Math.abs(t-v)<1e-6))out.push(v);}
  return out;
}
for(const p of panels){
  const ml=40,mr=8,mt=18,mb=26,W=p.R-p.L,H=p.B-p.T;
  const rows=p.d.flatMap(([c,flat])=>d3.range(0,flat.length,2).map(i=>({c,x:flat[i],y:flat[i+1]})));
  const mx=minorTicks(p.xt,p.xd),my=minorTicks(p.yt,p.yd);
  const tickOpts={stroke:INK,strokeWidth:.7};
  const xTicks=(vals,len)=>[
    Plot.tickX(vals,{x:d=>d,insetTop:H-len,...tickOpts}),
    Plot.tickX(vals,{x:d=>d,insetBottom:H-len,...tickOpts})];
  const yTicks=(vals,len)=>[
    Plot.tickY(vals,{y:d=>d,insetRight:W-len,...tickOpts}),
    Plot.tickY(vals,{y:d=>d,insetLeft:W-len,...tickOpts})];
  const fmt=p.yf?d3.format(p.yf):d3.format("");
  const svg=Plot.plot({
    width:W+ml+mr,height:H+mt+mb,
    marginLeft:ml,marginRight:mr,marginTop:mt,marginBottom:mb,
    style:{fontFamily:"'Liberation Serif',serif",background:"transparent",color:TXT,overflow:"visible"},
    x:{domain:p.xd,label:null},
    y:{domain:p.yd,label:null},
    color:{type:"ordinal",domain:classNames,range:classColors},
    marks:[
      Plot.dot(rows,{x:"x",y:"y",fill:"c",r:2.7,fillOpacity:.8,clip:"frame"}),
      ...xTicks(mx,1.7),...yTicks(my,1.7),...xTicks(p.xt,3.2),...yTicks(p.yt,3.2),
      Plot.frame({stroke:INK,strokeWidth:1}),
      Plot.axisX({ticks:p.xt,tickSize:0,tickPadding:4,fontSize:8,tickFormat:d3.format(""),label:"Dimension 1",labelAnchor:"center",labelArrow:"none",labelOffset:19}),
      Plot.axisY({ticks:p.yt,tickSize:0,tickPadding:3,fontSize:8,tickFormat:fmt,label:"Dimension 2",labelAnchor:"center",labelArrow:"none",labelOffset:p.yo}),
      Plot.text([p.t],{frameAnchor:"top",dy:-11,fontSize:9.6,fill:TXT})
    ]
  });
  svg.style.position="absolute";
  svg.style.left=(p.L-ml)+"px";
  svg.style.top=(p.T-mt)+"px";
  stage.appendChild(svg);
}
for(const [s,x] of supers){const e=document.createElement("div");e.className="sup";e.textContent=s;e.style.left=x+"px";stage.appendChild(e);}
for(const [s,y] of events){const e=document.createElement("div");e.className="ev";e.textContent=s;e.style.left="17px";e.style.top=y+"px";stage.appendChild(e);}
</script></body></html>
